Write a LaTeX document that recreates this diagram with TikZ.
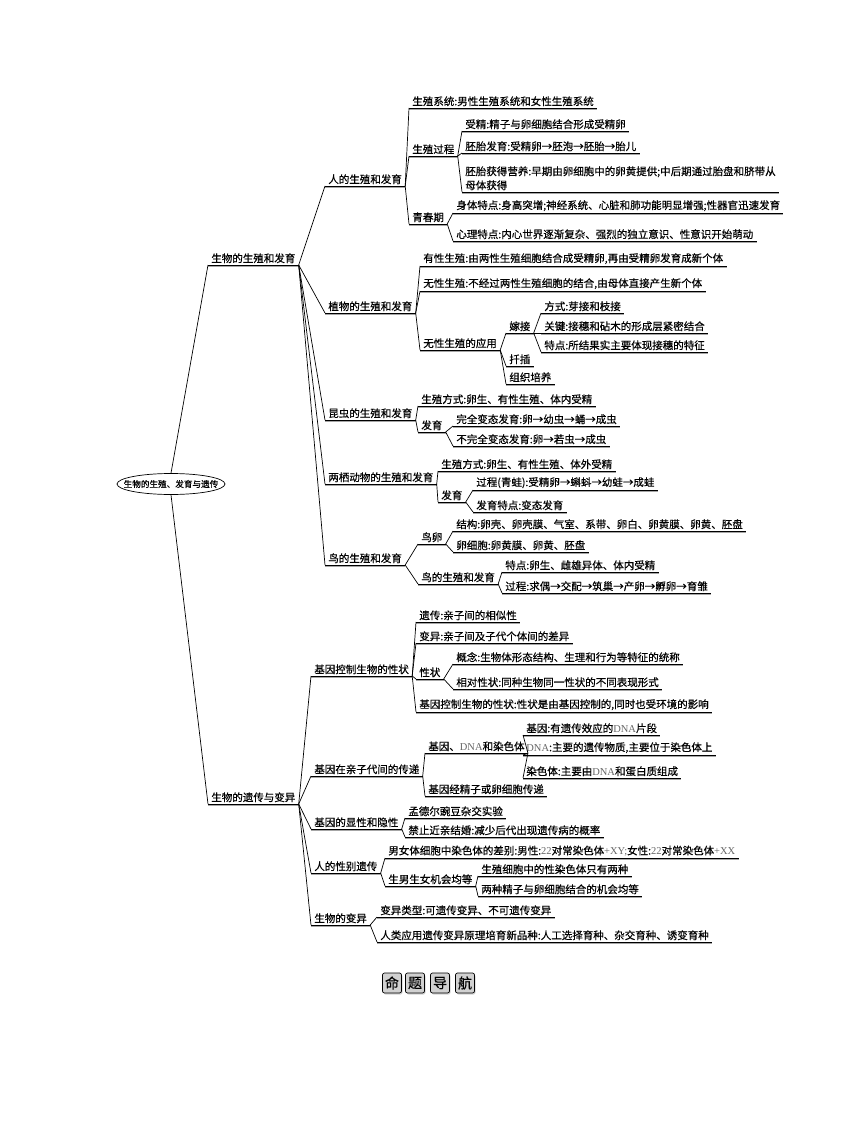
\documentclass[tikz,border=0pt]{standalone}
\usepackage{fontspec}
\newfontfamily\cjk[FakeBold=0.5]{Noto Sans CJK SC}
\newfontfamily\latinfont{Liberation Serif}
\usetikzlibrary{shapes.geometric,shadows}
\newcommand\ltn[1]{{\latinfont\color{black!60}#1}}
\begin{document}
\begin{tikzpicture}[x=1pt,y=-1pt,line width=0.7pt,
	item/.style={anchor=south west,inner xsep=3pt,inner ysep=1.5pt,
		font=\cjk\fontsize{10.5}{14}\selectfont,
		append after command={([yshift=-1pt]\tikzlastnode.south west) edge[black!35] ([yshift=-1pt]\tikzlastnode.south east)
			(\tikzlastnode.south west) edge (\tikzlastnode.south east)}},
	rootnode/.style={draw,ellipse,minimum width=108pt,minimum height=21pt,inner sep=0pt,
		font=\cjk\fontsize{8.6}{10}\selectfont},
	navbox/.style={draw,rounded corners=2pt,fill=black!18,minimum width=19pt,minimum height=20pt,
		inner sep=0pt,font=\cjk\fontsize{14}{14}\selectfont,
		drop shadow={shadow xshift=1pt,shadow yshift=-1.5pt,fill=black!35}}]
	\useasboundingbox (0,0) rectangle (860,1126);
%	\draw[help lines,step=50] (0,0) grid (860,1126);
	\node [rootnode] (root) at (171,484) {\makebox[74pt]{生物的生殖、发育与遗传}};
	\node [item] (a) at (208,265) {生物的生殖和发育};
	\node [item] (b) at (208,804) {生物的遗传与变异};
	% 生殖和发育
	\node [item] (a1) at (325,186) {人的生殖和发育};
	\node [item] (a11) at (409,108) {生殖系统:男性生殖系统和女性生殖系统};
	\node [item] (a12) at (409,156) {生殖过程};
	\node [item] (a121) at (462,131) {受精:精子与卵细胞结合形成受精卵};
	\node [item] (a122) at (462,153) {胚胎发育:受精卵→胚泡→胚胎→胎儿};
	\node [item,align=left] (a123) at (462,192) {胚胎获得营养:早期由卵细胞中的卵黄提供;中后期通过胎盘和脐带从\\母体获得};
	\node [item] (a13) at (409,224) {青春期};
	\node [item] (a131) at (453,213) {身体特点:身高突增;神经系统、心脏和肺功能明显增强;性器官迅速发育};
	\node [item] (a132) at (453,241) {心理特点:内心世界逐渐复杂、强烈的独立意识、性意识开始萌动};
	\node [item] (a2) at (325,313) {植物的生殖和发育};
	\node [item] (a21) at (420,266) {有性生殖:由两性生殖细胞结合成受精卵,再由受精卵发育成新个体};
	\node [item] (a22) at (420,291) {无性生殖:不经过两性生殖细胞的结合,由母体直接产生新个体};
	\node [item] (a23) at (420,350) {无性生殖的应用};
	\node [item] (a231) at (506,333) {嫁接};
	\node [item] (a2311) at (541,313) {方式:芽接和枝接};
	\node [item] (a2312) at (541,333) {关键:接穗和砧木的形成层紧密结合};
	\node [item] (a2313) at (541,352) {特点:所结果实主要体现接穗的特征};
	\node [item] (a232) at (506,366) {扦插};
	\node [item] (a233) at (506,384) {组织培养};
	\node [item] (a3) at (325,420) {昆虫的生殖和发育};
	\node [item] (a31) at (418,406) {生殖方式:卵生、有性生殖、体内受精};
	\node [item] (a32) at (418,432) {发育};
	\node [item] (a321) at (453,426) {完全变态发育:卵→幼虫→蛹→成虫};
	\node [item] (a322) at (453,446) {不完全变态发育:卵→若虫→成虫};
	\node [item] (a4) at (325,484) {两栖动物的生殖和发育};
	\node [item] (a41) at (438,471) {生殖方式:卵生、有性生殖、体外受精};
	\node [item] (a42) at (438,502) {发育};
	\node [item] (a421) at (473,490) {过程(青蛙):受精卵→蝌蚪→幼蛙→成蛙};
	\node [item] (a422) at (473,512) {发育特点:变态发育};
	\node [item] (a5) at (325,565) {鸟的生殖和发育};
	\node [item] (a51) at (418,544) {鸟卵};
	\node [item] (a511) at (453,531) {结构:卵壳、卵壳膜、气室、系带、卵白、卵黄膜、卵黄、胚盘};
	\node [item] (a512) at (453,552) {卵细胞:卵黄膜、卵黄、胚盘};
	\node [item] (a52) at (418,584) {鸟的生殖和发育};
	\node [item] (a521) at (502,572) {特点:卵生、雌雄异体、体内受精};
	\node [item] (a522) at (502,593) {过程:求偶→交配→筑巢→产卵→孵卵→育雏};
	% 遗传与变异
	\node [item] (b1) at (311,676) {基因控制生物的性状};
	\node [item] (b11) at (416,622) {遗传:亲子间的相似性};
	\node [item] (b12) at (416,643) {变异:亲子间及子代个体间的差异};
	\node [item] (b13) at (416,679) {性状};
	\node [item] (b131) at (453,664) {概念:生物体形态结构、生理和行为等特征的统称};
	\node [item] (b132) at (453,689) {相对性状:同种生物同一性状的不同表现形式};
	\node [item] (b14) at (416,712) {基因控制生物的性状:性状是由基因控制的,同时也受环境的影响};
	\node [item] (b2) at (311,776) {基因在亲子代间的传递};
	\node [item] (b21) at (425,753) {基因、\ltn{DNA}和染色体};
	\node [item] (b211) at (523,735) {基因:有遗传效应的\ltn{DNA}片段};
	\node [item] (b212) at (523,755) {\ltn{DNA}:主要的遗传物质,主要位于染色体上};
	\node [item] (b213) at (523,778) {染色体:主要由\ltn{DNA}和蛋白质组成};
	\node [item] (b22) at (425,796) {基因经精子或卵细胞传递};
	\node [item] (b3) at (311,829) {基因的显性和隐性};
	\node [item] (b31) at (405,818) {孟德尔豌豆杂交实验};
	\node [item] (b32) at (405,837) {禁止近亲结婚:减少后代出现遗传病的概率};
	\node [item] (b4) at (311,873) {人的性别遗传};
	\node [item] (b41) at (385,858) {男女体细胞中染色体的差别:男性:\ltn{22}对常染色体\ltn{+XY;}女性:\ltn{22}对常染色体\ltn{+XX}};
	\node [item] (b42) at (385,886) {生男生女机会均等};
	\node [item] (b421) at (478,876) {生殖细胞中的性染色体只有两种};
	\node [item] (b422) at (478,896) {两种精子与卵细胞结合的机会均等};
	\node [item] (b5) at (311,925) {生物的变异};
	\node [item] (b51) at (377,917) {变异类型:可遗传变异、不可遗传变异};
	\node [item] (b52) at (377,942) {人类应用遗传变异原理培育新品种:人工选择育种、杂交育种、诱变育种};
	% connectors
	\draw (root.north) -- (a.south west);
	\draw (root.south) -- (b.south west);
	\draw (a.south east) -- (a1.south west);
	\draw (a.south east) -- (a2.south west);
	\draw (a.south east) -- (a3.south west);
	\draw (a.south east) -- (a4.south west);
	\draw (a.south east) -- (a5.south west);
	\draw (a1.south east) -- (a11.south west);
	\draw (a1.south east) -- (a12.south west);
	\draw (a1.south east) -- (a13.south west);
	\draw (a12.south east) -- (a121.south west);
	\draw (a12.south east) -- (a122.south west);
	\draw (a12.south east) -- (a123.south west);
	\draw (a13.south east) -- (a131.south west);
	\draw (a13.south east) -- (a132.south west);
	\draw (a2.south east) -- (a21.south west);
	\draw (a2.south east) -- (a22.south west);
	\draw (a2.south east) -- (a23.south west);
	\draw (a23.south east) -- (a231.south west);
	\draw (a23.south east) -- (a232.south west);
	\draw (a23.south east) -- (a233.south west);
	\draw (a231.south east) -- (a2311.south west);
	\draw (a231.south east) -- (a2312.south west);
	\draw (a231.south east) -- (a2313.south west);
	\draw (a3.south east) -- (a31.south west);
	\draw (a3.south east) -- (a32.south west);
	\draw (a32.south east) -- (a321.south west);
	\draw (a32.south east) -- (a322.south west);
	\draw (a4.south east) -- (a41.south west);
	\draw (a4.south east) -- (a42.south west);
	\draw (a42.south east) -- (a421.south west);
	\draw (a42.south east) -- (a422.south west);
	\draw (a5.south east) -- (a51.south west);
	\draw (a5.south east) -- (a52.south west);
	\draw (a51.south east) -- (a511.south west);
	\draw (a51.south east) -- (a512.south west);
	\draw (a52.south east) -- (a521.south west);
	\draw (a52.south east) -- (a522.south west);
	\draw (b.south east) -- (b1.south west);
	\draw (b.south east) -- (b2.south west);
	\draw (b.south east) -- (b3.south west);
	\draw (b.south east) -- (b4.south west);
	\draw (b.south east) -- (b5.south west);
	\draw (b1.south east) -- (b11.south west);
	\draw (b1.south east) -- (b12.south west);
	\draw (b1.south east) -- (b13.south west);
	\draw (b1.south east) -- (b14.south west);
	\draw (b13.south east) -- (b131.south west);
	\draw (b13.south east) -- (b132.south west);
	\draw (b2.south east) -- (b21.south west);
	\draw (b2.south east) -- (b22.south west);
	\draw (b21.south east) -- (b211.south west);
	\draw (b21.south east) -- (b212.south west);
	\draw (b21.south east) -- (b213.south west);
	\draw (b3.south east) -- (b31.south west);
	\draw (b3.south east) -- (b32.south west);
	\draw (b4.south east) -- (b41.south west);
	\draw (b4.south east) -- (b42.south west);
	\draw (b42.south east) -- (b421.south west);
	\draw (b42.south east) -- (b422.south west);
	\draw (b5.south east) -- (b51.south west);
	\draw (b5.south east) -- (b52.south west);
	% 命题导航
	\node [navbox] (nav1) at (392,983) {命};
	\node [navbox] (nav2) at (415,983) {题};
	\node [navbox] (nav3) at (440,983) {导};
	\node [navbox] (nav4) at (465,983) {航};
\end{tikzpicture}
\end{document}
